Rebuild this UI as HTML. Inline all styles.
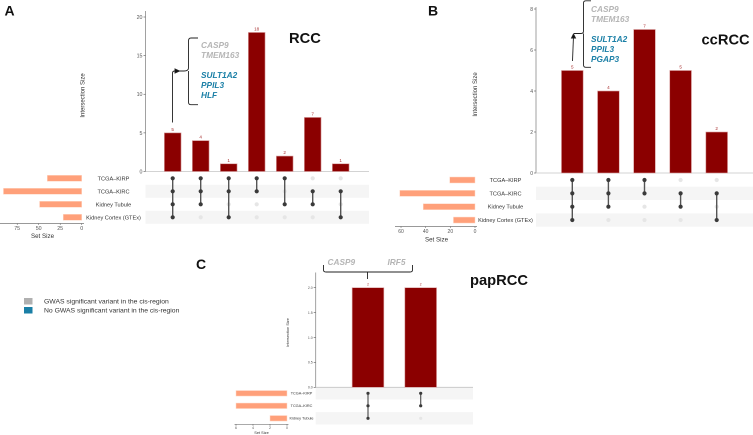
<!DOCTYPE html>
<html>
<head>
<meta charset="utf-8">
<style>
html,body{margin:0;padding:0;background:#fff;}
svg{display:block;font-family:"Liberation Sans",sans-serif;}
</style>
</head>
<body>
<svg id="fig" xmlns="http://www.w3.org/2000/svg" width="753" height="435" viewBox="0 0 753 435">
  <g font-weight="bold" font-size="14" fill="#111">
    <text x="4.5" y="15.5">A</text>
    <text x="428" y="15.5">B</text>
    <text x="196" y="269">C</text>
  </g>
  <g font-weight="bold" font-size="14.7" fill="#111">
    <text x="289" y="43">RCC</text>
    <text x="701.5" y="44.5">ccRCC</text>
    <text x="470" y="285">papRCC</text>
  </g>
  <g id="panels"></g>
  <g fill="none" stroke="#222" stroke-width="0.9">
    <path d="M198 38 H191 Q188.5 38 188.5 41 V68 Q188.5 71 184 71 H176 M188.5 71 V102 Q188.5 104.7 191 104.7 H198"/>
    <path d="M172.5 122.5 V73 Q172.5 71 175 71 H180"/>
    <path d="M179.5 71 L175 69 V73 Z" fill="#111"/>
  </g>
  <g font-weight="bold" font-style="italic" font-size="8.3">
    <text x="201" y="48" fill="#b5b5b5">CASP9</text>
    <text x="201" y="58" fill="#b5b5b5">TMEM163</text>
    <text x="201" y="78" fill="#1a7fa6">SULT1A2</text>
    <text x="201" y="88" fill="#1a7fa6">PPIL3</text>
    <text x="201" y="98" fill="#1a7fa6">HLF</text>
  </g>
  <g fill="none" stroke="#222" stroke-width="0.9">
    <path d="M591 0.8 H586 Q583.5 0.8 583.5 3 V31 Q583.5 33.5 581 33.5 H574 M583.5 33.5 V65 Q583.5 67.3 586 67.3 H591"/>
    <path d="M572.5 61 L573.5 36"/>
    <path d="M573.5 34 L571.5 38 H575.5 Z" fill="#111"/>
  </g>
  <g font-weight="bold" font-style="italic" font-size="8.3">
    <text x="591" y="12" fill="#b5b5b5">CASP9</text>
    <text x="591" y="22" fill="#b5b5b5">TMEM163</text>
    <text x="591" y="42" fill="#1a7fa6">SULT1A2</text>
    <text x="591" y="52" fill="#1a7fa6">PPIL3</text>
    <text x="591" y="62" fill="#1a7fa6">PGAP3</text>
  </g>
  <g>
    <path fill="none" stroke="#222" stroke-width="0.9" d="M323.5 265 V270 Q323.5 272 326 272 H410 Q412.5 272 412.5 270 V265 M367.5 272 V279"/>
    <text x="327.5" y="265" font-weight="bold" font-style="italic" font-size="8.3" fill="#b5b5b5">CASP9</text>
    <text x="387.5" y="265" font-weight="bold" font-style="italic" font-size="8.3" fill="#b5b5b5">IRF5</text>
  </g>
  <g font-size="6.8" fill="#333">
    <rect x="24" y="298" width="8.5" height="6.5" fill="#b0b0b0"/>
    <text x="44" y="303.5">GWAS significant variant in the cis-region</text>
    <rect x="24" y="307" width="8.5" height="6.5" fill="#1a7fa6"/>
    <text x="44" y="312.5">No GWAS significant variant in the cis-region</text>
  </g>
</svg>
<script>
// Panel A (RCC)
var rccIntersections = [5, 4, 1, 18, 2, 7, 1];
var rccYTicks = [0, 5, 10, 15, 20];
var rccSets = ["TCGA–KIRP", "TCGA–KIRC", "Kidney Tubule", "Kidney Cortex (GTEx)"];
var rccSetSizes = [40, 91, 49, 21.5];
var rccSetTicks = [0, 25, 50, 75];
var rccMembership = [[1,1,1,1],[1,1,1,0],[1,1,0,1],[1,1,0,0],[1,0,1,0],[0,1,1,0],[0,1,0,1]];
// Panel B (ccRCC)
var ccIntersections = [5, 4, 7, 5, 2];
var ccYTicks = [0, 2, 4, 6, 8];
var ccSets = ["TCGA–KIRP", "TCGA–KIRC", "Kidney Tubule", "Kidney Cortex (GTEx)"];
var ccSetSizes = [20.5, 61, 42, 17.5];
var ccSetTicks = [0, 20, 40, 60];
var ccMembership = [[1,1,1,1],[1,1,1,0],[1,1,0,0],[0,1,1,0],[0,1,0,1]];
// Panel C (papRCC)
var papIntersections = [2, 2];
var papYTicks = [0, 0.5, 1, 1.5, 2];
var papSets = ["TCGA–KIRP", "TCGA–KIRC", "Kidney Tubule"];
var papSetSizes = [6, 6, 2];
var papSetTicks = [0, 2, 4, 6];
var papMembership = [[1,1,1],[1,1,0]];

var NS = "http://www.w3.org/2000/svg";
var host = document.getElementById("panels");

function mk(parent, tag, attrs, txt) {
  var e = document.createElementNS(NS, tag);
  for (var k in attrs) e.setAttribute(k, attrs[k]);
  if (txt !== undefined) e.textContent = txt;
  parent.appendChild(e);
  return e;
}

function drawPanel(key, vals, yTicks, sets, sizes, setTicks, members, L) {
  var g = mk(host, "g", {});
  
  

  var yScale = function (v) { return L.y0 + (L.yTop - L.y0) * v / L.yMax; };
  var xScale = function (i) { return L.x0 + L.xStep * i; };
  var setScale = function (v) { return L.s0 - L.sUnit * v; };
  var rowScale = function (r) { return L.r0 + L.rStep * r; };

  // stripes
  sets.forEach(function (s, r) {
    if (r % 2 === L.stripeOdd) {
      var st = mk(g, "rect", {x: L.axX, y: rowScale(r) - L.rStep / 2, width: L.axEnd - L.axX, height: L.rStep, fill: "#f5f5f5"});
      
      
    }
  });

  // y axis
  var ya = mk(g, "line", {x1: L.axX, x2: L.axX, y1: L.yAxTop, y2: L.y0, stroke: "#8a8a8a", "stroke-width": 0.8});
  
  
  var xa = mk(g, "line", {x1: L.axX, x2: L.axEnd, y1: L.y0, y2: L.y0, stroke: "#c4c4c4", "stroke-width": 0.8});
  
  

  yTicks.forEach(function (t) {
    var y = yScale(t);
    var tk = mk(g, "line", {x1: L.axX - 2, x2: L.axX, y1: y, y2: y, stroke: "#555", "stroke-width": 0.6});
    
    
    var lb = mk(g, "text", {x: L.axX - 3, y: y + L.tickFs * 0.36, "text-anchor": "end", "font-size": L.tickFs, fill: "#555"}, L.yFixed ? t.toFixed(1) : String(t));
    
    
  });

  var yt = mk(g, "text", {transform: "translate(" + L.yTitleX + "," + L.yTitleY + ") rotate(-90)", "text-anchor": "middle", "font-size": L.titleFs, fill: "#333"}, "Intersection Size");
  
  

  // intersection bars
  vals.forEach(function (v, i) {
    var x = xScale(i), y = yScale(v);
    var b = mk(g, "rect", {x: x - L.bw / 2, y: y, width: L.bw, height: L.y0 - y, fill: "#8b0000", stroke: "#d9a0a0", "stroke-width": 0.6});
    
    
    var t = mk(g, "text", {x: x, y: y - 2, "text-anchor": "middle", "font-size": L.valFs, fill: "#a83030"}, String(v));
    
    
  });

  // matrix
  members.forEach(function (col, i) {
    var x = xScale(i), on = [];
    col.forEach(function (m, r) {
      if (m) on.push(r);
      else {
        var c0 = mk(g, "circle", {cx: x, cy: rowScale(r), r: L.dot, fill: "#e6e6e6"});
        
        
      }
    });
    var ln = mk(g, "line", {x1: x, x2: x, y1: rowScale(on[0]), y2: rowScale(on[on.length - 1]), stroke: "#555", "stroke-width": L.link});
    
    
    on.forEach(function (r) {
      var c1 = mk(g, "circle", {cx: x, cy: rowScale(r), r: L.dot, fill: "#3a3a3a"});
      
      
    });
  });

  // set bars & labels
  sets.forEach(function (s, r) {
    var y = rowScale(r), x = setScale(sizes[r]);
    var b = mk(g, "rect", {x: x, y: y - L.sh / 2, width: L.s0 - x, height: L.sh, fill: "#ffa07a", stroke: "#ffd9c8", "stroke-width": 0.5});
    
    
    var t = mk(g, "text", {x: L.labX, y: y + L.labFs * 0.36, "text-anchor": "middle", "font-size": L.labFs, fill: "#333"}, s);
    
    
  });

  // set axis
  var sa = mk(g, "line", {x1: L.sAxL, x2: L.sAxR, y1: L.sAxY, y2: L.sAxY, stroke: "#777", "stroke-width": 0.7});
  
  
  setTicks.forEach(function (t) {
    var x = setScale(t);
    var tk = mk(g, "line", {x1: x, x2: x, y1: L.sAxY, y2: L.sAxY + 1.5, stroke: "#555", "stroke-width": 0.5});
    
    
    var lb = mk(g, "text", {x: x, y: L.sAxY + 1.3 + L.tickFs, "text-anchor": "middle", "font-size": L.tickFs, fill: "#555"}, String(t));
    
    
  });
  var st2 = mk(g, "text", {x: L.sTitleX, y: L.sTitleY, "text-anchor": "middle", "font-size": L.setTitleFs, fill: "#333"}, "Set Size");
  
  
}

drawPanel("rcc", rccIntersections, rccYTicks, rccSets, rccSetSizes, rccSetTicks, rccMembership, {
  axX: 145.5, axEnd: 369, y0: 171.5, yTop: 17, yMax: 20, yAxTop: 11, x0: 172.7, xStep: 28, bw: 16.7,
  r0: 178.3, rStep: 13, stripeOdd: 1, dot: 2.1, link: 1.4,
  s0: 81.7, sUnit: 0.86, sh: 6, labX: 113.5, labFs: 5.6,
  sAxL: 0, sAxR: 84, sAxY: 223.5, sTitleX: 42.5, sTitleY: 238.2, setTitleFs: 6.2,
  tickFs: 5.3, titleFs: 6, valFs: 4.6, yTitleX: 84.5, yTitleY: 95.5
});
drawPanel("cc", ccIntersections, ccYTicks, ccSets, ccSetSizes, ccSetTicks, ccMembership, {
  axX: 536, axEnd: 753, y0: 173, yTop: 9, yMax: 8, yAxTop: 7, x0: 572.3, xStep: 36.1, bw: 21.7,
  r0: 180, rStep: 13.35, stripeOdd: 1, dot: 2.1, link: 1.4,
  s0: 475, sUnit: 1.233, sh: 6, labX: 505.5, labFs: 5.6,
  sAxL: 395, sAxR: 477, sAxY: 226.5, sTitleX: 436.5, sTitleY: 241.5, setTitleFs: 6.2,
  tickFs: 5, titleFs: 6, valFs: 4.6, yTitleX: 477, yTitleY: 94.5
});
drawPanel("pap", papIntersections, papYTicks, papSets, papSetSizes, papSetTicks, papMembership, {
  axX: 315.7, axEnd: 473, y0: 387.3, yTop: 287.7, yMax: 2, yAxTop: 272.5, x0: 368, xStep: 52.7, bw: 31.7,
  r0: 393.3, rStep: 12.5, stripeOdd: 0, dot: 1.6, link: 1.2, yFixed: true,
  s0: 287, sUnit: 8.5, sh: 5.5, labX: 301.5, labFs: 3.8,
  sAxL: 234.5, sAxR: 288.5, sAxY: 424.3, sTitleX: 261.5, sTitleY: 434, setTitleFs: 3.9,
  tickFs: 3.5, titleFs: 3.9, valFs: 3.2, yTitleX: 289, yTitleY: 332.5
});
</script>
</body>
</html>
